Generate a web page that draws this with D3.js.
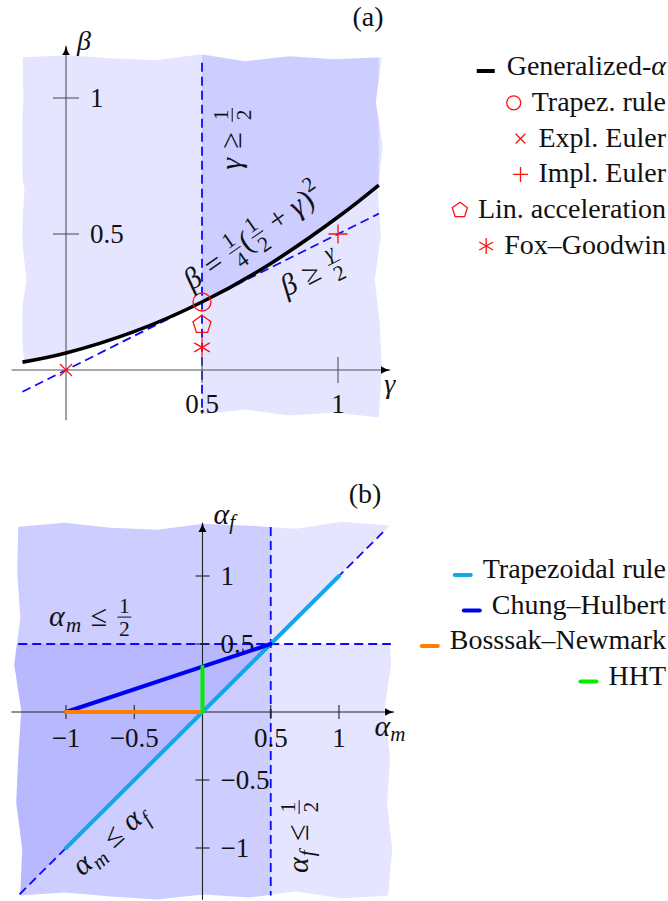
<!DOCTYPE html>
<html>
<head>
<meta charset="utf-8">
<script src="https://cdn.jsdelivr.net/npm/d3@7"></script>
<style>
  body { margin: 0; background: #fff; }
  svg text { fill: #111; }
</style>
</head>
<body>
<div id="app"></div>
<script>
// ---- data: panel (a), Newmark parameters ----
const gammaTicks = [0.5, 1];
const betaTicks = [0.5, 1];
// generalized-alpha curve
const curveGamma = [-0.16, 0, 0.25, 0.5, 0.75, 1, 1.15];
const curveBeta = [0.029, 0.0625, 0.141, 0.25, 0.39, 0.5625, 0.68];
const pointNames = ['Trapez. rule', 'Expl. Euler', 'Impl. Euler', 'Lin. acceleration', 'Fox–Goodwin'];
const pointGamma = [0.5, 0, 1, 0.5, 0.5];
const pointBeta = [0.25, 0, 0.5, 0.1667, 0.0833];
const pointSymbols = ['circle', 'cross', 'plus', 'pentagon', 'asterisk'];

// ---- data: panel (b), generalized-alpha parameters ----
const amTicks = [-1, -0.5, 0.5, 1];
const afTicks = [-1, -0.5, 0.5, 1];
const lineNames = ['Trapezoidal rule', 'Chung–Hulbert', 'Bosssak–Newmark', 'HHT'];
const lineAm = [[-1, 1], [-1, 0, 0.5], [-1, 0], [0, 0]];
const lineAf = [[-1, 1], [0, 0.333, 0.5], [0, 0], [0, 0.333]];

(() => {
  const W = 668, H = 901;
  const fs = 26; // tick font size
  const legFs = 28;
  const mathFs = 30;
  const serif = '"Liberation Serif", "Tinos", "Times New Roman", Times, "Nimbus Roman", "Noto Serif", "DejaVu Serif", FreeSerif, serif';
  const lineColors = ['#14a6e6', '#0000f0', '#ff8000', '#00f000'];
  const dashBlue = '#0a0aff';

  const svg = d3.select('#app').append('svg')
    .attr('width', W).attr('height', H)
    .attr('font-family', serif)
    .style('font-family', serif);
  const defs = svg.append('defs');

  defs.append('marker')
    .attr('id', 'arrow')
    .attr('viewBox', '0 -5 10 10')
    .attr('refX', 9).attr('refY', 0)
    .attr('markerUnits', 'userSpaceOnUse')
    .attr('markerWidth', 10).attr('markerHeight', 10)
    .attr('orient', 'auto')
    .append('path')
    .attr('d', 'M0,-4 Q4,-1 10,0 Q4,1 0,4 Z')
    .attr('fill', '#000');

  // scales
  const xa = d3.scaleLinear().domain([0, 1]).range([66, 338]);
  const ya = d3.scaleLinear().domain([0, 1]).range([370, 98]);
  const xb = d3.scaleLinear().domain([-1, 1]).range([66, 339]);
  const yb = d3.scaleLinear().domain([-1, 1]).range([848, 576]);
  const fmt = d3.format('~g');

  // torn paper outline used as clip region
  const paperPath = (x0, x1, y0, y1, jit) => {
    const n = 8;
    const pts = [];
    for (let i = 0; i < n; i++) pts.push([x0 + (x1 - x0) * i / n, y0 + jit[i % jit.length]]);
    for (let i = 0; i < n; i++) pts.push([x1 + jit[(i + 3) % jit.length], y0 + (y1 - y0) * i / n]);
    for (let i = 0; i < n; i++) pts.push([x1 - (x1 - x0) * i / n, y1 + jit[(i + 5) % jit.length]]);
    for (let i = 0; i < n; i++) pts.push([x0 + jit[(i + 2) % jit.length], y1 - (y1 - y0) * i / n]);
    return 'M' + pts.map(p => p.join(',')).join('L') + 'Z';
  };

  defs.append('clipPath').attr('id', 'paperA').append('path')
    .attr('d', paperPath(xa(-0.16), xa(1.15), ya(1.15), ya(-0.16), [0, -2, 1, 3, -3, 4, -1, 2, -4, 1, 3]));
  defs.append('clipPath').attr('id', 'paperB').append('path')
    .attr('d', paperPath(xb(-1.35), xb(1.36), yb(1.37), yb(-1.35), [1, -3, 2, 4, -2, 0, 3, -4, 2, -1, 4]));

  // math-ish label builder: parts laid out left to right
  const mathText = (parent, parts, size) => {
    const g = parent.append('g');
    let x = 0;
    parts.forEach(p => {
      if (p.f) {
        const s = size * 0.72;
        const num = g.append('text').attr('y', -0.44 * size).attr('font-size', s)
          .attr('font-style', p.fi ? 'italic' : null).attr('text-anchor', 'middle').text(p.f[0]);
        const den = g.append('text').attr('y', 0.34 * size).attr('font-size', s)
          .attr('text-anchor', 'middle').text(p.f[1]);
        const w = Math.max(num.node().getComputedTextLength(), den.node().getComputedTextLength()) + 0.22 * size;
        num.attr('x', x + w / 2);
        den.attr('x', x + w / 2);
        g.append('line')
          .attr('x1', x + 0.06 * size).attr('x2', x + w - 0.06 * size)
          .attr('y1', -0.29 * size).attr('y2', -0.29 * size)
          .attr('stroke', '#111').attr('stroke-width', 1);
        x += w;
      } else if (p.sup || p.sub) {
        const t = g.append('text').attr('x', x)
          .attr('y', p.sup ? -0.45 * size : 0.22 * size)
          .attr('font-size', size * 0.7)
          .attr('font-style', 'italic')
          .text(p.sup || p.sub);
        if (p.sup) t.attr('font-style', null);
        x += t.node().getComputedTextLength() + 0.04 * size;
      } else {
        const pad = p.sp ? 0.28 * size : 0;
        x += pad;
        const t = g.append('text').attr('x', x).attr('y', 0).attr('font-size', size)
          .attr('font-style', p.i ? 'italic' : null).text(p.t);
        x += t.node().getComputedTextLength() + pad + (p.i ? 0.04 * size : 0);
      }
    });
    return { g, w: x };
  };

  const placeMath = (parts, cx, cy, angle, size) => {
    const outer = svg.append('g').attr('transform', `translate(${cx},${cy}) rotate(${angle})`);
    const m = mathText(outer, parts, size);
    m.g.attr('transform', `translate(${-m.w / 2},${size * 0.3})`);
  };

  const drawSymbol = (g, type, cx, cy, r) => {
    const red = g.append('g').attr('stroke', '#ff1010').attr('stroke-width', 1.3).attr('fill', 'none');
    if (type === 'circle') {
      red.append('circle').attr('cx', cx).attr('cy', cy).attr('r', r);
    } else if (type === 'cross') {
      const a = r * 0.75;
      red.append('path').attr('d', `M${cx - a},${cy - a}L${cx + a},${cy + a}M${cx - a},${cy + a}L${cx + a},${cy - a}`);
    } else if (type === 'plus') {
      red.append('path').attr('d', `M${cx - r},${cy}L${cx + r},${cy}M${cx},${cy - r}L${cx},${cy + r}`);
    } else if (type === 'pentagon') {
      const pts = d3.range(5).map(k => {
        const t = (-90 + k * 72) * Math.PI / 180;
        return [cx + r * Math.cos(t), cy + r * Math.sin(t)];
      });
      red.append('path').attr('d', 'M' + pts.map(p => p.join(',')).join('L') + 'Z');
    } else if (type === 'asterisk') {
      const d = [90, 30, 150].map(a => {
        const t = a * Math.PI / 180;
        return `M${cx - r * Math.cos(t)},${cy - r * Math.sin(t)}L${cx + r * Math.cos(t)},${cy + r * Math.sin(t)}`;
      }).join('');
      red.append('path').attr('d', d);
    }
  };

  // ================= panel (a) =================
  const shadeA = svg.append('g').attr('clip-path', 'url(#paperA)');
  // region gamma >= 1/2
  shadeA.append('rect')
    .attr('x', xa(0.5)).attr('y', ya(1.3))
    .attr('width', xa(1.3) - xa(0.5)).attr('height', ya(-0.3) - ya(1.3))
    .attr('fill', 'blue').attr('fill-opacity', 0.1);
  // region above the generalized-alpha curve
  const curvePts = curveGamma.map((g, i) => [g, curveBeta[i]]);
  shadeA.append('path')
    .datum(curvePts)
    .attr('d', d3.area().x(d => xa(d[0])).y0(ya(1.3)).y1(d => ya(d[1])).curve(d3.curveNatural))
    .attr('fill', 'blue').attr('fill-opacity', 0.1);

  // dashed stability bounds
  svg.append('line')
    .attr('x1', xa(0.5)).attr('x2', xa(0.5)).attr('y1', ya(1.13)).attr('y2', ya(-0.16))
    .attr('stroke', dashBlue).attr('stroke-width', 1.8).attr('stroke-dasharray', '9 5');
  svg.append('line')
    .attr('x1', xa(-0.16)).attr('y1', ya(-0.08)).attr('x2', xa(1.15)).attr('y2', ya(0.575))
    .attr('stroke', dashBlue).attr('stroke-width', 1.8).attr('stroke-dasharray', '9 5');

  // axes
  const axA = svg.append('g').attr('stroke', '#555').attr('stroke-width', 1.1);
  axA.append('line').attr('x1', xa(-0.2)).attr('x2', xa(1.19)).attr('y1', ya(0)).attr('y2', ya(0))
    .attr('marker-end', 'url(#arrow)');
  axA.append('line').attr('x1', xa(0)).attr('x2', xa(0)).attr('y1', ya(-0.185)).attr('y2', ya(1.19))
    .attr('marker-end', 'url(#arrow)');
  axA.selectAll('.gt').data(gammaTicks).enter().append('line')
    .attr('x1', d => xa(d)).attr('x2', d => xa(d)).attr('y1', ya(0) - 13).attr('y2', ya(0) + 13);
  axA.selectAll('.bt').data(betaTicks).enter().append('line')
    .attr('y1', d => ya(d)).attr('y2', d => ya(d)).attr('x1', xa(0) - 13).attr('x2', xa(0) + 13);

  svg.selectAll('.gtl').data(gammaTicks).enter().append('text')
    .attr('x', d => xa(d)).attr('y', ya(0) + 43)
    .attr('text-anchor', 'middle').attr('font-size', fs + 1).text(fmt);
  svg.selectAll('.btl').data(betaTicks).enter().append('text')
    .attr('x', xa(0) + 24).attr('y', d => ya(d)).attr('dy', '0.35em')
    .attr('font-size', fs + 1).text(fmt);

  svg.append('text').attr('x', xa(0) + 11).attr('y', ya(1.175))
    .attr('font-size', legFs).attr('font-style', 'italic').text('β');
  svg.append('text').attr('x', xa(1.17)).attr('y', ya(-0.085))
    .attr('font-size', legFs).attr('font-style', 'italic').text('γ');

  // generalized-alpha curve
  svg.append('path')
    .datum(curvePts)
    .attr('d', d3.line().x(d => xa(d[0])).y(d => ya(d[1])).curve(d3.curveNatural))
    .attr('fill', 'none').attr('stroke', '#000').attr('stroke-width', 3.6);

  // scheme markers
  const markSizes = { circle: 9, cross: 8, plus: 9.5, pentagon: 9.5, asterisk: 9 };
  const markA = svg.append('g');
  pointSymbols.forEach((s, i) => drawSymbol(markA, s, xa(pointGamma[i]), ya(pointBeta[i]), markSizes[s]));

  // annotations
  placeMath([{ t: 'γ', i: true }, { t: '≥', sp: true }, { f: ['1', '2'] }], xa(0.61), ya(0.853), -90, mathFs);
  placeMath([{ t: 'β', i: true }, { t: '=', sp: true }, { f: ['1', '4'] }, { t: '(' }, { f: ['1', '2'] },
    { t: '+', sp: true }, { t: 'γ', i: true }, { t: ')' }, { sup: '2' }], xa(0.69), ya(0.49), -35, mathFs);
  placeMath([{ t: 'β', i: true }, { t: '≥', sp: true }, { f: ['γ', '2'], fi: true }], xa(0.905), ya(0.355), -27, mathFs);

  svg.append('text').attr('x', 368).attr('y', 26).attr('text-anchor', 'middle')
    .attr('font-size', legFs).text('(a)');

  // legend (a)
  const legA = svg.append('g');
  const legAy = d => 75 + d * 35.8;
  const gen = legA.append('text').attr('x', 666).attr('y', legAy(0)).attr('text-anchor', 'end')
    .attr('font-size', legFs);
  gen.append('tspan').text('Generalized-');
  gen.append('tspan').attr('font-style', 'italic').text('α');
  const gw = gen.node().getComputedTextLength();
  legA.append('line').attr('x1', 666 - gw - 30).attr('x2', 666 - gw - 12)
    .attr('y1', legAy(0) - 4).attr('y2', legAy(0) - 4)
    .attr('stroke', '#000').attr('stroke-width', 4);
  const legSizes = { circle: 7, cross: 6.5, plus: 7.5, pentagon: 8, asterisk: 8 };
  pointNames.forEach((name, i) => {
    const t = legA.append('text').attr('x', 666).attr('y', legAy(i + 1)).attr('text-anchor', 'end')
      .attr('font-size', legFs).text(name);
    const w = t.node().getComputedTextLength();
    drawSymbol(legA, pointSymbols[i], 666 - w - 18, legAy(i + 1) - 8, legSizes[pointSymbols[i]]);
  });

  // ================= panel (b) =================
  const shadeB = svg.append('g').attr('clip-path', 'url(#paperB)');
  // alpha_m <= 1/2
  shadeB.append('rect')
    .attr('x', xb(-1.6)).attr('y', yb(1.6))
    .attr('width', xb(0.5) - xb(-1.6)).attr('height', yb(-1.6) - yb(1.6))
    .attr('fill', 'blue').attr('fill-opacity', 0.1);
  // alpha_f <= 1/2
  shadeB.append('rect')
    .attr('x', xb(-1.6)).attr('y', yb(0.5))
    .attr('width', xb(1.6) - xb(-1.6)).attr('height', yb(-1.6) - yb(0.5))
    .attr('fill', 'blue').attr('fill-opacity', 0.1);
  // alpha_m <= alpha_f
  shadeB.append('path')
    .datum([[-1.6, -1.6], [1.6, 1.6], [-1.6, 1.6]])
    .attr('d', d3.line().x(d => xb(d[0])).y(d => yb(d[1])).curve(d3.curveLinearClosed))
    .attr('fill', 'blue').attr('fill-opacity', 0.1);

  const dashB = svg.append('g').attr('stroke', dashBlue).attr('stroke-width', 1.8).attr('stroke-dasharray', '9 5');
  dashB.append('line').attr('x1', xb(-1.35)).attr('x2', xb(1.38)).attr('y1', yb(0.5)).attr('y2', yb(0.5));
  dashB.append('line').attr('x1', xb(0.5)).attr('x2', xb(0.5)).attr('y1', yb(1.36)).attr('y2', yb(-1.35));
  dashB.append('line').attr('x1', xb(-1.34)).attr('y1', yb(-1.34)).attr('x2', xb(1.34)).attr('y2', yb(1.34));

  const axB = svg.append('g').attr('stroke', '#222').attr('stroke-width', 1.1);
  axB.append('line').attr('x1', xb(-1.4)).attr('x2', xb(1.4)).attr('y1', yb(0)).attr('y2', yb(0))
    .attr('marker-end', 'url(#arrow)');
  axB.append('line').attr('x1', xb(0)).attr('x2', xb(0)).attr('y1', yb(-1.38)).attr('y2', yb(1.39))
    .attr('marker-end', 'url(#arrow)');
  axB.selectAll('.amt').data(amTicks).enter().append('line')
    .attr('x1', d => xb(d)).attr('x2', d => xb(d)).attr('y1', yb(0) - 7).attr('y2', yb(0) + 7);
  axB.selectAll('.aft').data(afTicks).enter().append('line')
    .attr('y1', d => yb(d)).attr('y2', d => yb(d)).attr('x1', xb(0) - 7).attr('x2', xb(0) + 7);

  svg.selectAll('.amtl').data(amTicks).enter().append('text')
    .attr('x', d => xb(d)).attr('y', yb(0) + 35)
    .attr('text-anchor', 'middle').attr('font-size', fs + 1).text(fmt);
  svg.selectAll('.aftl').data(afTicks).enter().append('text')
    .attr('x', xb(0) + 18).attr('y', d => yb(d)).attr('dy', '0.35em')
    .attr('font-size', fs + 1).text(fmt);

  // scheme lines
  lineNames.forEach((name, i) => {
    const pts = lineAm[i].map((a, k) => [a, lineAf[i][k]]);
    svg.append('path').datum(pts)
      .attr('d', d3.line().x(d => xb(d[0])).y(d => yb(d[1])))
      .attr('fill', 'none').attr('stroke', lineColors[i]).attr('stroke-width', 4)
      .attr('stroke-linecap', 'round').attr('stroke-linejoin', 'round');
  });

  // axis labels
  const axLab = (x, y, sub) => {
    const t = svg.append('text').attr('x', x).attr('y', y).attr('font-size', mathFs);
    t.append('tspan').attr('font-style', 'italic').text('α');
    t.append('tspan').attr('font-style', 'italic').attr('font-size', mathFs * 0.7).attr('dy', 5).text(sub);
  };
  axLab(xb(0.08), yb(1.38), 'f');
  axLab(xb(1.26), yb(-0.18), 'm');

  placeMath([{ t: 'α', i: true }, { sub: 'm' }, { t: '≤', sp: true }, { f: ['1', '2'] }], xb(-0.816), yb(0.70), 0, mathFs);
  placeMath([{ t: 'α', i: true }, { sub: 'm' }, { t: '≤', sp: true }, { t: 'α', i: true }, { sub: 'f' }], xb(-0.676), yb(-0.94), -42, mathFs);
  placeMath([{ t: 'α', i: true }, { sub: 'f' }, { t: '≤', sp: true }, { f: ['1', '2'] }], xb(0.706), yb(-0.91), -90, mathFs);

  svg.append('text').attr('x', 365).attr('y', 503).attr('text-anchor', 'middle')
    .attr('font-size', legFs).text('(b)');

  // legend (b)
  const legBy = d => 578 + d * 35.5;
  lineNames.forEach((name, i) => {
    const t = svg.append('text').attr('x', 666).attr('y', legBy(i)).attr('text-anchor', 'end')
      .attr('font-size', legFs).text(name);
    const w = t.node().getComputedTextLength();
    svg.append('line').attr('x1', 666 - w - 28).attr('x2', 666 - w - 12)
      .attr('y1', legBy(i) - 3).attr('y2', legBy(i) - 3)
      .attr('stroke', lineColors[i]).attr('stroke-width', 4).attr('stroke-linecap', 'round');
  });
})();
</script>
</body>
</html>
